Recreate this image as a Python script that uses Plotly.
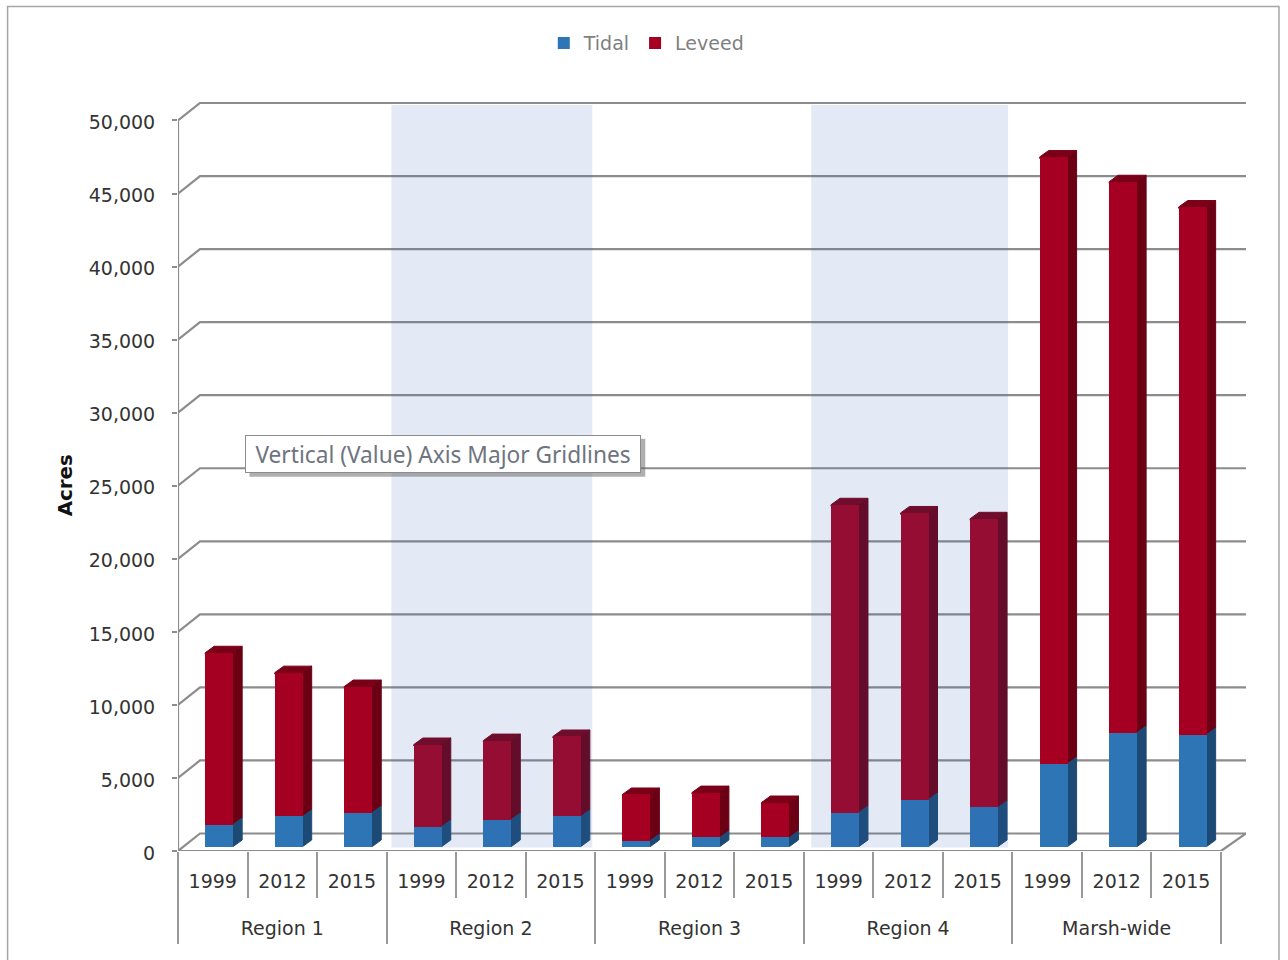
import plotly.graph_objects as go

regions = ["Region 1", "Region 2", "Region 3", "Region 4", "Marsh-wide"]
years = ["1999", "2012", "2015"]
tidal = [1505, 2055, 2325, 1365, 1845, 2055, 410, 620, 620, 2325, 3210, 2670, 5670, 7800, 7660]
leveed = [11755, 9845, 8625, 5615, 5405, 5475, 3150, 3070, 2390, 21065, 19620, 19760, 41520, 37700, 36110]
y_ticks = [0, 5000, 10000, 15000, 20000, 25000, 30000, 35000, 40000, 45000, 50000]

W, H = 1288, 960
L, R, T, B = 177.5, 1246.0, 102.0, 851.5
PX_PER_CAT = (1221 - 177.5) / 15
PX_PER_VAL = 73.1 / 5000
XMAX = (R - L) / PX_PER_CAT
YMAX = (B - T) / PX_PER_VAL

def ux(px): return (px - L) / PX_PER_CAT
def uy(px): return (B - px) / PX_PER_VAL
def dux(px): return px / PX_PER_CAT
def duy(px): return px / PX_PER_VAL
def px_x(px): return (px - L) / (R - L)
def px_y(px): return (B - px) / (B - T)

n = len(tidal)
cat_x = [i + 0.5 for i in range(n)]
labels = [years[i % 3] for i in range(n)]
reg_x = [3 * i + 1.5 for i in range(len(regions))]

BAR_L = dux(27.2)
BAR_W = dux(28.0)
BAR_C = BAR_L + BAR_W / 2
DEPTH_X = dux(9.0)
DEPTH_Y = duy(6.5)
FLOOR_Y = duy(4.5)
WALL_DX = dux(22.0)
WALL_DY = duy(17.5)
TUCK_X = dux(1.5)
TUCK_Y = duy(1.5)

BLUE, BLUE_SIDE = "#2E75B6", "#1C4A75"
RED, RED_SIDE, RED_TOP = "#A50021", "#6B0015", "#7A0018"
GRID = "#8C8C8C"
TXT = "#333333"
FONT = "DejaVu Sans"

fig = go.Figure()

# wall gridlines, floor and axis lines
gx, gy = [], []
for v in y_ticks:
    gx += [0, WALL_DX, XMAX, None]
    gy += [v, v + WALL_DY, v + WALL_DY, None]
gx += [XMAX, 15, 0, None, 0, 0]
gy += [WALL_DY, 0, 0, None, 0, y_ticks[-1]]
fig.add_trace(go.Scatter(x=gx, y=gy, mode="lines", line=dict(color=GRID, width=2.2),
                         cliponaxis=False, showlegend=False, hoverinfo="skip", zorder=0))

# front faces
bx = [i + BAR_C for i in range(n)]
fig.add_trace(go.Bar(x=bx, y=tidal, base=[FLOOR_Y] * n, width=BAR_W, name="Tidal",
                     marker=dict(color=BLUE, line=dict(width=0)), zorder=2))
fig.add_trace(go.Bar(x=bx, y=leveed, base=[FLOOR_Y + t for t in tidal], width=BAR_W, name="Leveed",
                     marker=dict(color=RED, line=dict(width=0)), zorder=2))

# side faces and tops, tucked under the front faces so no light seam shows
def side(lo, hi):
    xs, ys = [], []
    for i in range(n):
        a = i + BAR_L + BAR_W
        xs += [a - TUCK_X, a, a + DEPTH_X, a + DEPTH_X, a, a - TUCK_X, None]
        ys += [lo[i], lo[i], lo[i] + DEPTH_Y, hi[i] + DEPTH_Y, hi[i], hi[i], None]
    return xs, ys

tops = [t + l for t, l in zip(tidal, leveed)]
base0 = [FLOOR_Y] * n
lvl1 = [FLOOR_Y + t for t in tidal]
lvl2 = [FLOOR_Y + t for t in tops]
tx, ty = [], []
for i in range(n):
    a = i + BAR_L
    tx += [a, a, a + DEPTH_X, a + BAR_W + DEPTH_X, a + BAR_W, a + BAR_W, None]
    ty += [lvl2[i] - TUCK_Y, lvl2[i], lvl2[i] + DEPTH_Y, lvl2[i] + DEPTH_Y, lvl2[i], lvl2[i] - TUCK_Y, None]
fig.add_trace(go.Scatter(x=tx, y=ty, mode="lines", fill="toself", fillcolor=RED_TOP,
                         line=dict(width=1, color=RED_TOP), showlegend=False,
                         hoverinfo="skip", zorder=1))
for lo, hi, col in [(lvl1, lvl2, RED_SIDE), (base0, lvl1, BLUE_SIDE)]:
    xs, ys = side(lo, hi)
    fig.add_trace(go.Scatter(x=xs, y=ys, mode="lines", fill="toself", fillcolor=col,
                             line=dict(width=1, color=col), showlegend=False,
                             hoverinfo="skip", zorder=1))

# second axis only carries the region level of the category labels
fig.add_trace(go.Scatter(x=reg_x, y=[0] * len(reg_x), xaxis="x2", mode="markers",
                         marker=dict(opacity=0), showlegend=False, hoverinfo="skip"))

BAND = "rgba(50,100,180,0.134)"
shapes = []
for x0, x1 in [(391, 592), (811, 1008)]:
    shapes.append(dict(type="rect", xref="x", yref="y", x0=ux(x0), x1=ux(x1), y0=uy(848), y1=uy(105),
                       fillcolor=BAND, line=dict(width=0), layer="above"))
# chart frame
shapes.append(dict(type="rect", xref="paper", yref="paper", x0=px_x(7), x1=px_x(1279), y0=px_y(990), y1=px_y(6.5),
                   line=dict(color="#A6A6A6", width=1.5), layer="below"))
# tooltip shadow
shapes.append(dict(type="rect", xref="paper", yref="paper", x0=px_x(249), x1=px_x(645), y0=px_y(477), y1=px_y(439),
                   fillcolor="rgba(110,110,110,0.55)", line=dict(width=0), layer="above"))

annotations = [
    dict(text="Acres", xref="paper", yref="paper", x=px_x(64.5), y=px_y(485.5), textangle=-90, showarrow=False,
         font=dict(family=FONT, size=19.8, color="#111111", weight="bold"), xanchor="center", yanchor="middle"),
    dict(text="Vertical (Value) Axis Major Gridlines", xref="paper", yref="paper", x=px_x(443), y=px_y(454.5),
         showarrow=False, width=394, height=36, align="center", valign="middle",
         bgcolor="#FFFFFF", bordercolor="#8C8C8C", borderwidth=1, borderpad=0,
         font=dict(family="Noto Sans", size=22.7, color="#6E7480"), xanchor="center", yanchor="middle"),
]

fig.update_layout(
    width=W, height=H, autosize=False,
    margin=dict(l=L, r=W - R, t=T, b=H - B),
    paper_bgcolor="#FFFFFF", plot_bgcolor="rgba(0,0,0,0)",
    barmode="overlay", bargap=0,
    font=dict(family=FONT, size=19, color=TXT),
    showlegend=True,
    legend=dict(orientation="h", x=px_x(646), xanchor="center", y=px_y(43), yanchor="middle",
                font=dict(family=FONT, size=19, color="#7F7F7F"), bgcolor="rgba(0,0,0,0)",
                itemclick=False, itemdoubleclick=False, traceorder="normal"),
    shapes=shapes, annotations=annotations,
    xaxis=dict(range=[0, XMAX], tickmode="array", tickvals=cat_x, ticktext=labels, showgrid=False, zeroline=False,
               showline=False, ticks="", ticklabelstandoff=17, tickfont=dict(family=FONT, size=19, color=TXT),
               minor=dict(tickmode="array", tickvals=list(range(n + 1)), ticks="outside", ticklen=46,
                          tickwidth=1.5, tickcolor="#999999", showgrid=False)),
    xaxis2=dict(range=[0, XMAX], overlaying="x", side="bottom", anchor="y", tickmode="array", tickvals=reg_x,
                ticktext=regions, showgrid=False, zeroline=False, showline=False, ticks="", ticklabelstandoff=64,
                tickfont=dict(family=FONT, size=19, color=TXT),
                minor=dict(tickmode="array", tickvals=list(range(0, n + 1, 3)), ticks="outside", ticklen=92,
                           tickwidth=1.5, tickcolor="#999999", showgrid=False)),
    yaxis=dict(range=[0, YMAX], tickmode="array", tickvals=y_ticks, tickformat=",d", showgrid=False, zeroline=False,
               showline=False, ticks="outside", ticklen=5, tickwidth=2, tickcolor=GRID, ticklabelstandoff=13,
               ticklabelshift=2, tickfont=dict(family=FONT, size=19, color=TXT)),
)

fig.write_html("out.html", config={"displayModeBar": False}, post_script="document.body.style.margin='0';")
